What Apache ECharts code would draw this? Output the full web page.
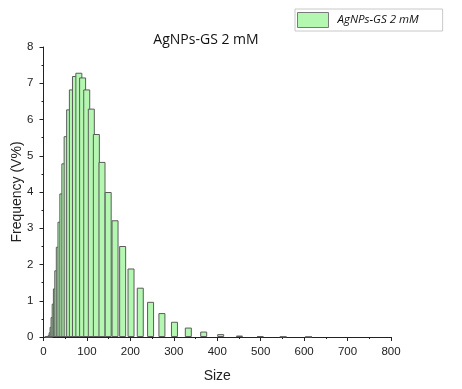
<!DOCTYPE html>
<html>
<head>
<meta charset="utf-8">
<script src="https://cdn.jsdelivr.net/npm/echarts@6/dist/echarts.min.js"></script>
<style>
html,body{margin:0;padding:0;background:#fff;}
#chart{width:462px;height:389px;}
</style>
</head>
<body>
<div id="chart"></div>
<script>
// Bin centres (Size) and volume frequency (V%)
var sizes = [10.9, 12.0, 13.3, 14.7, 16.3, 18.0, 19.9, 22.0, 24.3, 26.9, 29.7, 32.9, 36.4, 40.2, 44.5, 49.2, 54.4, 60.2, 66.5, 73.6, 81.4, 90.0, 99.5, 110.1, 121.7, 134.7, 148.9, 164.7, 182.2, 201.5, 222.8, 246.5, 272.6, 301.5, 333.4, 368.8, 407.9, 451.1, 498.9, 551.8, 610.3];
var freq = [0.002, 0.005, 0.01, 0.02, 0.03, 0.06, 0.13, 0.28, 0.55, 0.92, 1.34, 1.84, 2.49, 3.18, 3.96, 4.79, 5.54, 6.28, 6.83, 7.2, 7.29, 7.16, 6.83, 6.3, 5.6, 4.83, 4.0, 3.22, 2.51, 1.89, 1.36, 0.97, 0.66, 0.42, 0.26, 0.15, 0.08, 0.04, 0.02, 0.01, 0.005];
var seriesName = 'AgNPs-GS 2 mM';
var titleText = 'AgNPs-GS 2 mM';
var xTicks = [0, 100, 200, 300, 400, 500, 600, 700, 800];
var yTicks = [0, 1, 2, 3, 4, 5, 6, 7, 8];

var data = sizes.map(function (s, i) { return [s, freq[i]]; });
var chart = echarts.init(document.getElementById('chart'), null, {renderer: 'canvas'});
var tickFont = {fontFamily: 'Liberation Sans, Arial, sans-serif', fontSize: 11.5, color: '#222'};
chart.setOption({
  animation: false,
  backgroundColor: '#fff',
  title: {
    text: titleText,
    left: 201, top: 28,
    textAlign: 'center',
    textStyle: {fontFamily: 'Open Sans, sans-serif', fontSize: 14, fontWeight: 'normal', color: '#111'}
  },
  legend: {
    left: 295, top: 9,
    orient: 'horizontal',
    padding: [3, 24, 3, 2],
    borderColor: '#c8c8c8', borderWidth: 1,
    itemWidth: 31, itemHeight: 15,
    icon: 'rect',
    data: [seriesName],
    itemStyle: {color: '#b3f7b0', borderColor: '#7a7a7a', borderWidth: 1},
    textStyle: {fontFamily: 'Open Sans, sans-serif', fontSize: 11.5, fontStyle: 'italic', color: '#111', padding: [0, 0, 0, 4]}
  },
  grid: {left: 43.5, right: 71, top: 47, bottom: 52, containLabel: false, outerBoundsMode: 'none'},
  xAxis: {
    type: 'value', min: xTicks[0], max: xTicks[xTicks.length - 1], interval: 100,
    name: 'Size', nameLocation: 'middle', nameGap: 32, nameMoveOverlap: false,
    nameTextStyle: {fontFamily: 'Liberation Sans, Arial, sans-serif', fontSize: 14, color: '#222'},
    axisLine: {lineStyle: {color: '#222', width: 1}},
    axisTick: {length: 4, lineStyle: {color: '#222'}},
    minorTick: {show: true, splitNumber: 2, length: 2, lineStyle: {color: '#222'}},
    axisLabel: Object.assign({margin: 9}, tickFont),
    splitLine: {show: false}
  },
  yAxis: {
    type: 'value', min: yTicks[0], max: yTicks[yTicks.length - 1], interval: 1,
    name: 'Frequency (V%)', nameLocation: 'middle', nameGap: 19, nameMoveOverlap: false,
    nameTextStyle: {fontFamily: 'Liberation Sans, Arial, sans-serif', fontSize: 14, color: '#222'},
    axisLine: {show: true, lineStyle: {color: '#222', width: 1}},
    axisTick: {show: true, length: 4, lineStyle: {color: '#222'}},
    minorTick: {show: true, splitNumber: 2, length: 2, lineStyle: {color: '#222'}},
    axisLabel: Object.assign({margin: 10}, tickFont),
    splitLine: {show: false}
  },
  series: [{
    name: seriesName,
    type: 'bar',
    barWidth: 7,
    data: data,
    itemStyle: {color: '#b3f7b0', borderColor: '#5c5c5c', borderWidth: 1}
  }]
});
</script>
</body>
</html>
